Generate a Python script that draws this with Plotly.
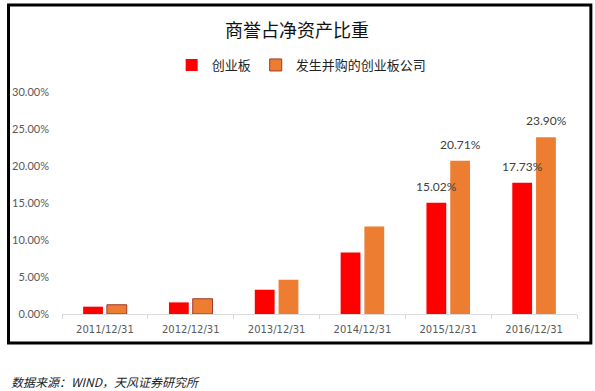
import plotly.graph_objects as go

categories = ["2011/12/31", "2012/12/31", "2013/12/31", "2014/12/31", "2015/12/31", "2016/12/31"]
gem_values = [0.99, 1.57, 3.28, 8.31, 15.02, 17.73]          # 创业板 (%)
ma_values = [1.25, 2.06, 4.63, 11.82, 20.71, 23.90]          # 发生并购的创业板公司 (%)
labeled_categories = ["2015/12/31", "2016/12/31"]
series_names = ["创业板", "发生并购的创业板公司"]
y_ticks = [0, 5, 10, 15, 20, 25, 30]
title_text = "商誉占净资产比重"
source_text = "数据来源：WIND，天风证券研究所"

W, H = 595, 391
L, R, T, B = 57, 18, 92, 77
pw, ph = W - L - R, H - T - B

def px_x(px):
    return (px - L) / pw

def px_y(py):
    return (H - B - py) / ph

CJK = "Noto Sans CJK SC"
NUM = "Lato, 'Open Sans', sans-serif"

fig = go.Figure()
fig.add_trace(go.Bar(
    x=categories, y=gem_values, name=series_names[0],
    marker=dict(color="#FF0000", line=dict(width=0)),
))
fig.add_trace(go.Bar(
    x=categories, y=ma_values, name=series_names[1],
    marker=dict(color="#ED7D31",
                line=dict(color="#A0382A", width=[1, 1, 0, 0, 0, 0])),
))

annotations = []
for cat, v1, v2 in zip(categories, gem_values, ma_values):
    if cat in labeled_categories:
        for v, shift in ((v1, -12), (v2, 12)):
            annotations.append(dict(
                x=cat, y=v, xref="x", yref="y", text=f"{v:.2f}%",
                showarrow=False, xshift=shift, yshift=7, yanchor="bottom",
                font=dict(family=NUM, size=12, color="#404040"),
            ))

annotations.append(dict(
    x=px_x(3), y=px_y(381), xref="paper", yref="paper",
    xanchor="left", yanchor="middle", showarrow=False,
    text=f"<i>{source_text}</i>",
    font=dict(family=CJK, size=12, color="#222222"),
))

fig.update_layout(
    width=W, height=H,
    margin=dict(l=L, r=R, t=T, b=B, pad=0),
    paper_bgcolor="white", plot_bgcolor="white",
    barmode="group", bargap=0.446, bargroupgap=0.167,
    title=dict(text=title_text, x=297 / W, xanchor="center",
               y=1 - 30.7 / H, yanchor="middle",
               font=dict(family=CJK, size=18, color="#111111")),
    legend=dict(orientation="h", x=px_x(299), xanchor="center",
                y=px_y(65), yanchor="middle",
                font=dict(family=CJK, size=13, color="#222222"),
                itemwidth=30, traceorder="normal",
                bgcolor="rgba(0,0,0,0)"),
    xaxis=dict(type="category", showline=True, linecolor="#D9D9D9", linewidth=1,
               ticks="outside", tickson="boundaries", ticklen=4,
               tickcolor="#D9D9D9", showgrid=False, ticklabelstandoff=6,
               tickfont=dict(family="'DejaVu Sans', sans-serif", size=10, color="#595959")),
    yaxis=dict(range=[0, 30], tickvals=y_ticks,
               ticktext=[f"{t:.2f}%" for t in y_ticks],
               showgrid=False, zeroline=False, showline=False, ticks="",
               ticklabelstandoff=12,
               tickfont=dict(family=NUM, size=11, color="#595959")),
    annotations=annotations,
    shapes=[dict(type="rect", xref="paper", yref="paper",
                 x0=px_x(3), x1=px_x(591), y0=px_y(343), y1=px_y(5),
                 line=dict(color="black", width=3), fillcolor="rgba(0,0,0,0)",
                 layer="below")],
)

fig.write_html("out.html",
               config={"displayModeBar": False},
               post_script="document.body.style.margin='0';document.body.style.overflow='hidden';")
